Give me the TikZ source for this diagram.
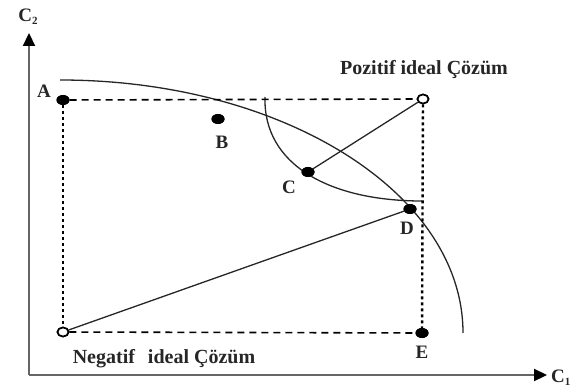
\documentclass[tikz,border=0pt]{standalone}
\usepackage{fontspec}
\setmainfont{Liberation Serif}
\usetikzlibrary{arrows.meta,shapes.geometric}
\begin{document}
\begin{tikzpicture}[x=1pt,y=-1pt,
 pt/.style={ellipse,fill=black,minimum width=13pt,minimum height=10pt,inner sep=0pt},
 ideal/.style={ellipse,draw=black,line width=1.6pt,fill=white,minimum width=11pt,minimum height=9pt,inner sep=0pt},
 lbl/.style={font=\fontsize{19}{19}\selectfont\bfseries,text=black!85,inner sep=0pt},
 captext/.style={font=\fontsize{20}{20}\selectfont\bfseries,text=black!85,inner sep=0pt,anchor=base},
 axis/.style={line width=2.2pt,draw=black!60,-{Triangle[length=13pt,width=12pt,color=black]}},
 dashline/.style={line width=1.6pt,dash pattern=on 7pt off 5pt},
 dotline/.style={line width=2.4pt,dash pattern=on 3pt off 3pt},
 curve/.style={line width=1.3pt,draw=black!85}]
\useasboundingbox (0,0) rectangle (577,387);
% axes
\coordinate (O) at (29,375);
\coordinate (ytip) at (29,33);
\coordinate (xtip) at (547,375);
\draw[axis] (O) -- (ytip);
\draw[axis] (O) -- (xtip);
\node[lbl,anchor=center] (c2) at (28,17) {C{\fontsize{11}{11}\selectfont\raisebox{-3pt}{2}}};
\node[lbl,anchor=west] (c1) at (551,378) {C{\fontsize{11}{11}\selectfont\raisebox{-3pt}{1}}};
% points
\node[pt] (A) at (63,100) {};
\node[ideal] (P) at (423,99) {};
\node[pt] (B) at (218,119) {};
\node[pt] (C) at (308,172) {};
\node[pt] (D) at (410,209) {};
\node[pt] (E) at (422,333) {};
\node[ideal] (N) at (63,332) {};
% frontier curves
\coordinate (f1) at (60,80);
\coordinate (f2) at (463,333);
\draw[curve] (f1) .. controls (282.6,80) and (463,192.8) .. (f2);
\coordinate (g1) at (265,97);
\coordinate (g2) at (422,201);
\draw[curve] (g1) .. controls (263,165) and (330,201) .. (g2);
% dashed and dotted lines
\draw[dashline] (A) -- (P);
\draw[dashline] (N) -- (E);
\draw[dotline] (A) -- (N);
\draw[dotline] (P) -- (E);
% solid lines
\draw[curve] (P) -- (C);
\draw[curve] (N) -- (D);
% redraw markers on top
\node[pt] at (A) {};
\node[pt] at (B) {};
\node[pt] at (C) {};
\node[pt] at (D) {};
\node[pt] at (E) {};
\node[ideal] at (P) {};
\node[ideal] at (N) {};
% labels
\node[lbl] (lA) at (44,91) {A};
\node[lbl] (lB) at (222,142) {B};
\node[lbl] (lC) at (289,187) {C};
\node[lbl] (lD) at (407,228) {D};
\node[lbl] (lE) at (422,352) {E};
\node[captext] (pos) at (424,75) {Pozitif ideal Çözüm};
\node[captext] (neg) at (164,363) {Negatif\hspace{0.4em} ideal Çözüm};
\end{tikzpicture}
\end{document}
